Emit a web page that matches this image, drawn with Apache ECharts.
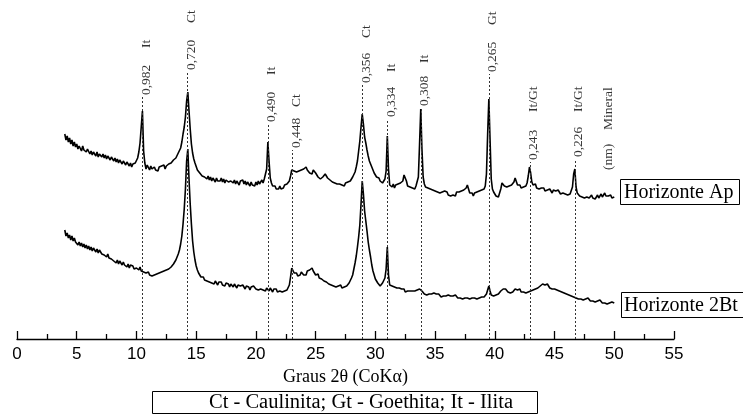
<!DOCTYPE html>
<html><head><meta charset="utf-8">
<script src="https://cdn.jsdelivr.net/npm/echarts@6/dist/echarts.min.js"></script>
<style>html,body{margin:0;padding:0;background:#fff}#c{width:743px;height:419px}</style>
</head><body><div id="c"></div>
<script>
// Scan grid (2θ, degrees)
const scanStart = 4.0;
const scanStep = 0.1;

// Horizonte Ap intensities (a.u.), one row per degree from 4.0 to 50.0
const apCounts = [
205,199,203,197,201,195,199,193,197,192,
195,190,193,191,188,193,189,191,187,190,
189,185,188,184,187,186,183,187,182,185,
186,182,185,181,184,180,183,182,179,182,
182,178,181,177,180,176,179,178,175,178,
178,174,177,175,173,176,172,175,173,176,
177,181,187,196,212,228,188,176,170,174,
172,169,173,170,168,172,169,171,168,172,
170,173,171,174,170,173,172,175,173,176,
176,179,177,181,182,186,187,191,197,205,
212,222,238,247,228,210,195,186,180,176,
174,169,170,166,167,163,165,162,164,160,
163,159,162,158,161,160,157,161,158,160,
158,161,157,160,156,159,161,157,159,158,
160,156,159,155,158,157,154,158,156,159,
155,158,154,157,155,153,157,154,156,153,
157,154,158,155,157,159,156,160,162,170,
197,178,161,156,153,151,153,150,152,150,
153,150,152,151,154,152,155,156,158,163,
169,171,168,166,167,165,168,166,169,167,
170,168,172,169,171,166,168,165,169,170,
166,164,162,163,160,159,162,161,165,164,
161,162,159,160,157,159,156,158,155,157,
155,157,154,156,153,156,155,157,156,158,
160,162,164,167,172,178,188,198,212,225,
215,202,196,189,183,178,175,172,169,166,
164,162,160,161,158,159,156,158,160,168,
203,170,154,156,152,155,151,154,152,155,
153,156,154,158,164,166,158,153,155,152,
154,151,153,150,153,155,162,195,230,190,
162,155,152,154,151,153,150,152,149,151,
148,150,147,149,146,148,147,145,148,146,
147,144,146,143,145,144,146,143,147,145,
147,145,148,146,149,148,151,154,150,146,
144,146,143,146,144,147,145,148,146,149,
147,150,153,165,205,240,200,160,150,147,
145,143,144,142,146,150,156,157,153,151,
152,150,153,151,154,153,157,161,159,154,
152,154,151,153,152,154,153,156,163,172,
166,157,154,152,155,151,153,150,152,151,
149,151,148,150,149,147,150,148,146,149,
147,148,146,149,147,145,147,146,148,145,
147,144,146,145,147,152,165,170,152,146,
145,143,145,142,144,141,143,142,144,141,
142,144,141,143,140,142,144,141,143,145,
142,144,146,143,141,143,142,144,141,143,
142
];

// Horizonte 2Bt intensities (a.u.), same grid
const btCounts = [
109,103,106,101,104,99,103,98,101,97,
99,94,97,93,96,92,95,91,94,90,
93,89,92,88,91,90,87,90,86,89,
89,85,87,84,86,82,85,81,83,80,
82,78,80,76,79,75,78,76,74,77,
74,76,72,75,71,74,72,73,70,72,
71,73,69,72,68,70,67,69,66,68,
67,64,66,63,65,64,62,65,63,66,
64,67,65,68,66,69,67,70,69,72,
73,75,76,79,81,85,89,95,103,115,
130,150,178,190,160,135,115,98,87,79,
73,69,66,64,62,61,62,59,61,58,
60,57,59,56,58,55,58,56,54,57,
55,57,54,56,53,56,54,55,52,55,
54,52,55,53,51,54,52,53,51,54,
52,50,53,51,52,49,52,50,53,51,
50,52,49,51,50,52,49,51,48,51,
50,48,51,49,47,50,48,50,47,49,
48,50,47,49,48,50,49,51,54,62,
71,69,66,64,66,63,65,64,67,65,
64,66,64,68,66,69,67,71,68,66,
64,63,65,61,62,60,61,58,59,57,
58,55,57,54,56,53,55,52,54,53,
52,54,51,53,52,54,53,55,56,58,
61,64,70,76,83,92,102,114,135,158,
145,128,118,108,97,89,82,74,68,64,
60,58,56,54,53,55,56,58,61,70,
92,64,54,52,53,51,52,50,51,49,
51,49,50,48,50,47,49,48,46,48,
47,48,46,48,47,49,48,50,52,48,
47,45,46,44,46,45,43,45,44,46,
44,45,43,45,44,42,44,43,45,43,
42,44,42,43,41,43,42,44,42,41,
43,41,42,40,42,41,43,41,42,40,
42,41,43,41,42,40,42,41,43,42,
43,42,44,45,49,53,48,44,42,43,
42,44,43,45,46,48,47,50,52,50,
49,47,48,46,48,47,49,50,51,49,
48,50,47,49,47,48,46,48,47,49,
48,47,49,48,50,49,51,50,53,52,
55,53,54,52,55,53,51,53,50,52,
50,51,49,50,48,49,47,48,46,47,
45,46,44,45,43,44,42,43,41,42,
40,42,40,41,39,41,40,39,41,39,
38,40,38,39,37,39,38,37,39,37,
36,38,36,37,35,37,36,35,37,35,
36
];

// Peak annotations
const peakTheta = [10.47, 14.27, 21.0, 23.05, 28.93, 31.02, 33.8, 39.5, 42.94, 46.7];
const peakD = ['0,982','0,720','0,490','0,448','0,356','0,334','0,308','0,265','0,243','0,226'];
const peakMineral = ['It','Ct','It','Ct','Ct','It','It','Gt','It/Gt','It/Gt'];
const dLabelLevel = [244, 269, 217, 191, 256, 222, 233, 267, 179, 182];
const mineralLabelLevel = [291, 316, 264, 232, 301, 267, 276, 314, 227, 227];
const headerTheta = 49.15;
const headerText = ['(nm)', 'Mineral'];
const headerLevel = [169, 209];

const xTickLabels = ['0','5','10','15','20','25','30','35','40','45','50','55'];
const horizonNames = ['Horizonte Ap', 'Horizonte 2Bt'];
const legendText = 'Ct - Caulinita; Gt - Goethita; It - Ilita';

const serif = '"Liberation Serif", "Times New Roman", serif';

function toPairs(arr) {
  return arr.map((v, i) => [+(scanStart + i * scanStep).toFixed(1), v]);
}

const labelStyleBase = {
  show: true, position: 'inside', rotate: 90, align: 'left', verticalAlign: 'top',
  lineHeight: 8, color: '#000', fontFamily: serif, fontSize: 13.5
};

const dData = peakTheta.map((t, i) => ({ value: [t, dLabelLevel[i]], label: { formatter: peakD[i] } }));
const mData = peakTheta.map((t, i) => ({ value: [t, mineralLabelLevel[i]], label: { formatter: peakMineral[i] } }));
const hData = headerText.map((s, i) => ({ value: [headerTheta, headerLevel[i]], label: { formatter: s } }));

const chart = echarts.init(document.getElementById('c'), null, { renderer: 'canvas' });
chart.setOption({
  animation: false,
  backgroundColor: '#fff',
  grid: { left: 17, right: 69, top: 0, bottom: 80, containLabel: false, outerBoundsMode: 'none' },
  xAxis: {
    type: 'value', min: 0, max: 55, interval: 5,
    axisLine: { show: true, lineStyle: { color: '#000', width: 1.3 } },
    axisTick: { show: true, inside: true, length: 8, lineStyle: { color: '#000', width: 1.3 } },
    minorTick: { show: true, splitNumber: 2, length: 5, lineStyle: { color: '#000', width: 1.3 } },
    splitLine: { show: false },
    axisLabel: {
      color: '#000', fontSize: 17, fontFamily: '"Liberation Sans Narrow", "Arial Narrow", "Liberation Sans", Arial, sans-serif', margin: 7,
      formatter: v => xTickLabels[Math.round(v / 5)] ?? ''
    },
    name: 'Graus 2θ (CoKα)', nameLocation: 'middle', nameGap: 29,
    nameTextStyle: { color: '#000', fontSize: 18, fontFamily: serif }
  },
  yAxis: { type: 'value', min: 0, max: 339, show: false },
  series: [
    {
      type: 'scatter', data: dData, symbolSize: 0.1, itemStyle: { color: 'rgba(0,0,0,0)' },
      label: labelStyleBase, silent: true, z: 1,
      markLine: {
        silent: true, symbol: ['none', 'none'], label: { show: false },
        lineStyle: { color: '#333', width: 1, type: [2, 2] },
        data: peakTheta.map((t, i) => [{ coord: [t, 0] }, { coord: [t, dLabelLevel[i] - 2] }])
      }
    },
    { type: 'scatter', data: mData, symbolSize: 0.1, itemStyle: { color: 'rgba(0,0,0,0)' }, label: labelStyleBase, silent: true },
    { type: 'scatter', data: hData, symbolSize: 0.1, itemStyle: { color: 'rgba(0,0,0,0)' }, label: labelStyleBase, silent: true },
    { type: 'line', name: horizonNames[0], data: toPairs(apCounts), showSymbol: false, symbol: 'none',
      lineStyle: { color: '#000', width: 1.6 }, z: 3 },
    { type: 'line', name: horizonNames[1], data: toPairs(btCounts), showSymbol: false, symbol: 'none',
      lineStyle: { color: '#000', width: 1.6 }, z: 3 }
  ],
  graphic: [
    { type: 'rect', shape: { x: 620.5, y: 179.5, width: 119, height: 25 }, style: { fill: '#fff', stroke: '#000', lineWidth: 1 } },
    { type: 'text', x: 624, y: 192.5, style: { text: horizonNames[0], font: '20px ' + serif, fill: '#000', textVerticalAlign: 'middle', verticalAlign: 'middle' } },
    { type: 'rect', shape: { x: 621.5, y: 292.5, width: 125, height: 25 }, style: { fill: '#fff', stroke: '#000', lineWidth: 1 } },
    { type: 'text', x: 624, y: 305.5, style: { text: horizonNames[1], font: '20px ' + serif, fill: '#000', textVerticalAlign: 'middle', verticalAlign: 'middle' } },
    { type: 'rect', shape: { x: 152.5, y: 391.5, width: 385, height: 22 }, style: { fill: '#fff', stroke: '#000', lineWidth: 1 } },
    { type: 'text', x: 361, y: 403, style: { text: legendText, font: '20.5px ' + serif, fill: '#000', align: 'center', textAlign: 'center', verticalAlign: 'middle', textVerticalAlign: 'middle' } }
  ]
});
</script>
</body></html>
